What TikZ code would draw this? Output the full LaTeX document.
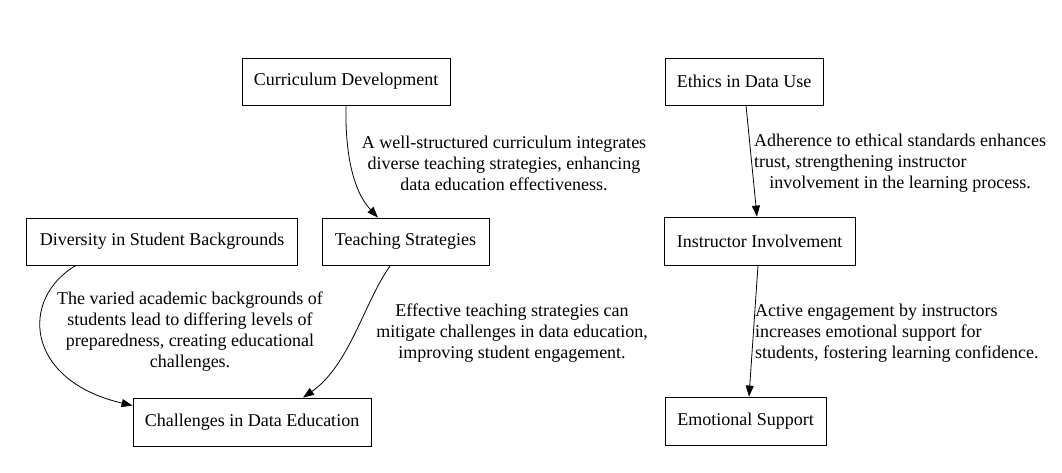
\documentclass[tikz,border=0pt]{standalone}
\usepackage{fontspec}
\setmainfont{Liberation Serif}
\usetikzlibrary{arrows.meta}
\tikzset{
  box/.style={draw, line width=0.8pt, inner sep=0pt, font=\fontsize{18}{21}\selectfont},
  lbl/.style={inner sep=0pt, font=\fontsize{18}{21}\selectfont},
  link/.style={line width=0.8pt, -{Triangle[length=11pt,width=8pt]}}
}
\begin{document}
\begin{tikzpicture}[x=1pt,y=-1pt]
\useasboundingbox (0,0) rectangle (1062,472);
% nodes
\node[box, minimum width=208pt, minimum height=47pt] (cd) at (346,81.5) {Curriculum Development};
\node[box, minimum width=158pt, minimum height=47pt] (ed) at (744,81.5) {Ethics in Data Use};
\node[box, minimum width=271pt, minimum height=47pt] (db) at (162,241.5) {Diversity in Student Backgrounds};
\node[box, minimum width=167pt, minimum height=47pt] (ts) at (405.5,241.5) {Teaching Strategies};
\node[box, minimum width=191pt, minimum height=48pt] (ii) at (759.5,241) {Instructor Involvement};
\node[box, minimum width=238pt, minimum height=48pt] (ce) at (252,422) {Challenges in Data Education};
\node[box, minimum width=161pt, minimum height=48pt] (es) at (745.5,421) {Emotional Support};
% edges
\draw[link] (cd.south) .. controls (345,150) and (352,190) .. ([xshift=-27.5pt]ts.north);
\draw[link] ([xshift=2pt]ed.south) -- ([xshift=-2.5pt]ii.north);
\draw[link] ([xshift=-1.5pt]ii.south) -- ([xshift=3.5pt]es.north);
\draw[link] ([xshift=-86pt]db.south) .. controls (20,298) and (24,380) .. ([yshift=-8pt]ce.north west);
\draw[link] ([xshift=-15pt]ts.south) .. controls (365,300) and (350,365) .. ([xshift=51pt]ce.north);
% labels
\node[lbl, align=center] (l1) at (504,163) {A well-structured curriculum integrates\\diverse teaching strategies, enhancing\\data education effectiveness.};
\node[lbl, anchor=west] (l2) at (754,163) {\begin{tabular}{@{}c@{}}Adherence to ethical standards enhances\\\multicolumn{1}{@{}l@{}}{trust, strengthening instructor}\\involvement in the learning process.\end{tabular}};
\node[lbl, align=center] (l3) at (190,332) {The varied academic backgrounds of\\students lead to differing levels of\\preparedness, creating educational\\challenges.};
\node[lbl, align=center] (l4) at (512,333) {Effective teaching strategies can\\mitigate challenges in data education,\\improving student engagement.};
\node[lbl, align=left, anchor=west] (l5) at (755,333) {Active engagement by instructors\\increases emotional support for\\students, fostering learning confidence.};
\end{tikzpicture}
\end{document}
